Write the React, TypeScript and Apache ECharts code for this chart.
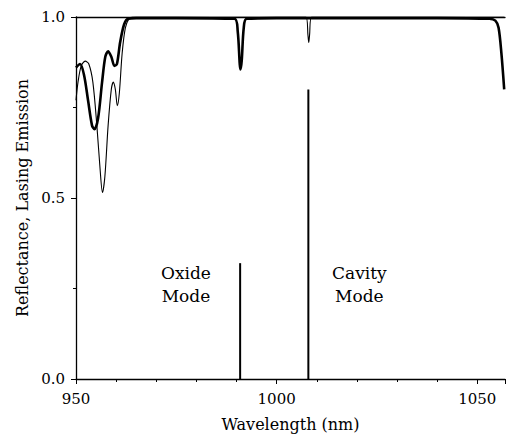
import React, { useEffect, useRef } from "react";
import * as echarts from "echarts";

// Thick curve (oxide-mode reflectance)
const thickX = [950, 951, 952, 953, 954, 954.6, 955.5, 956.5, 957.3, 958, 958.8, 959.6, 960.2, 961, 962, 963, 965, 975, 989.5, 990.3, 990.8, 991.0, 991.3, 991.8, 992.5, 1000, 1040, 1053, 1054.5, 1055.3, 1056, 1056.7];
const thickY = [0.86, 0.87, 0.84, 0.77, 0.70, 0.69, 0.72, 0.82, 0.89, 0.905, 0.89, 0.865, 0.87, 0.93, 0.98, 0.995, 0.997, 0.997, 0.995, 0.96, 0.87, 0.855, 0.88, 0.97, 0.995, 0.997, 0.997, 0.995, 0.99, 0.97, 0.9, 0.8];

// Thin curve (cavity-mode reflectance)
const thinX = [950, 950.5, 951.3, 952.3, 953.2, 954.2, 955.2, 956.0, 956.6, 957.2, 958.0, 958.8, 959.3, 959.8, 960.3, 960.8, 961.5, 962.3, 963.2, 964, 990, 1007.3, 1007.8, 1008.0, 1008.2, 1008.7, 1030, 1056.7];
const thinY = [0.77, 0.82, 0.865, 0.878, 0.87, 0.82, 0.70, 0.58, 0.515, 0.56, 0.70, 0.80, 0.82, 0.80, 0.755, 0.79, 0.90, 0.97, 0.995, 1.0, 1.0, 1.0, 0.95, 0.93, 0.95, 1.0, 1.0, 1.0];

// Lasing emission lines
const oxideEmission = { x: 990.9, height: 0.32 };
const cavityEmission = { x: 1007.9, height: 0.8 };

// Annotations
const annotations = [
  { text: "Oxide\nMode", x: 977.4, y: 0.262 },
  { text: "Cavity\nMode", x: 1020.6, y: 0.262 },
];

const xTitle = "Wavelength (nm)";
const yTitle = "Reflectance, Lasing Emission";

const FONT = "DejaVu Serif";

export default function App() {
  const ref = useRef<HTMLDivElement>(null);
  useEffect(() => {
    if (!ref.current) return;
    const chart = echarts.init(ref.current, undefined, { renderer: "svg" });
    const pair = (xs: number[], ys: number[]) => xs.map((x, i) => [x, ys[i]]);
    chart.setOption({
      animation: false,
      grid: { left: 76, top: 17, right: 0, bottom: 57 },
      xAxis: [
        {
          type: "value",
          min: 950,
          max: 1056.9,
          interval: 50,
          name: xTitle,
          nameLocation: "middle",
          nameGap: 37,
          nameTextStyle: { fontFamily: FONT, fontSize: 16, color: "#000" },
          axisLine: { lineStyle: { color: "#000", width: 1.3 } },
          axisTick: { show: true, length: 5, lineStyle: { color: "#000" } },
          minorTick: { show: true, splitNumber: 5, length: 3, lineStyle: { color: "#000" } },
          splitLine: { show: false },
          axisLabel: {
            fontFamily: FONT,
            fontSize: 15,
            color: "#000",
            margin: 12,
            formatter: (v: number) => (Math.abs(v % 50) < 1e-6 ? String(v) : ""),
          },
        },
        {
          type: "value",
          position: "top",
          min: 950,
          max: 1056.9,
          axisLine: { show: true, lineStyle: { color: "#000", width: 1.3 } },
          axisTick: { show: false },
          axisLabel: { show: false },
          splitLine: { show: false },
        },
      ],
      yAxis: {
        type: "value",
        min: 0,
        max: 1,
        interval: 0.5,
        name: yTitle,
        nameLocation: "middle",
        nameGap: 44,
        nameTextStyle: { fontFamily: FONT, fontSize: 16, color: "#000" },
        axisLine: { show: true, lineStyle: { color: "#000", width: 1.3 } },
        axisTick: { show: true, length: 5, lineStyle: { color: "#000" } },
        minorTick: { show: true, splitNumber: 2, length: 3, lineStyle: { color: "#000" } },
        splitLine: { show: false },
        axisLabel: {
          fontFamily: FONT,
          fontSize: 15,
          color: "#000",
          margin: 11,
          formatter: (v: number) => v.toFixed(1),
        },
      },
      series: [
        {
          type: "line",
          data: pair(thinX, thinY),
          symbol: "none",
          smooth: 0.3,
          lineStyle: { color: "#000", width: 1.1 },
        },
        {
          type: "line",
          data: pair(thickX, thickY),
          symbol: "none",
          smooth: 0.3,
          lineStyle: { color: "#000", width: 2.6 },
        },
        {
          type: "line",
          data: [
            [oxideEmission.x, 0],
            [oxideEmission.x, oxideEmission.height],
          ],
          symbol: "none",
          lineStyle: { color: "#000", width: 2 },
        },
        {
          type: "line",
          data: [
            [cavityEmission.x, 0],
            [cavityEmission.x, cavityEmission.height],
          ],
          symbol: "none",
          lineStyle: { color: "#000", width: 2 },
          markPoint: {
            symbol: "circle",
            symbolSize: 1,
            itemStyle: { color: "transparent" },
            label: {
              show: true,
              position: "inside",
              fontFamily: FONT,
              fontSize: 17,
              lineHeight: 23,
              color: "#000",
              align: "center",
              formatter: (p: any) => p.name,
            },
            data: annotations.map((a) => ({ name: a.text, coord: [a.x, a.y] })),
          },
        },
      ],
    });
    return () => chart.dispose();
  }, []);
  return (
    <div
      ref={ref}
      style={{ position: "fixed", left: 0, top: 0, width: 508, height: 437, background: "#fff" }}
    />
  );
}
